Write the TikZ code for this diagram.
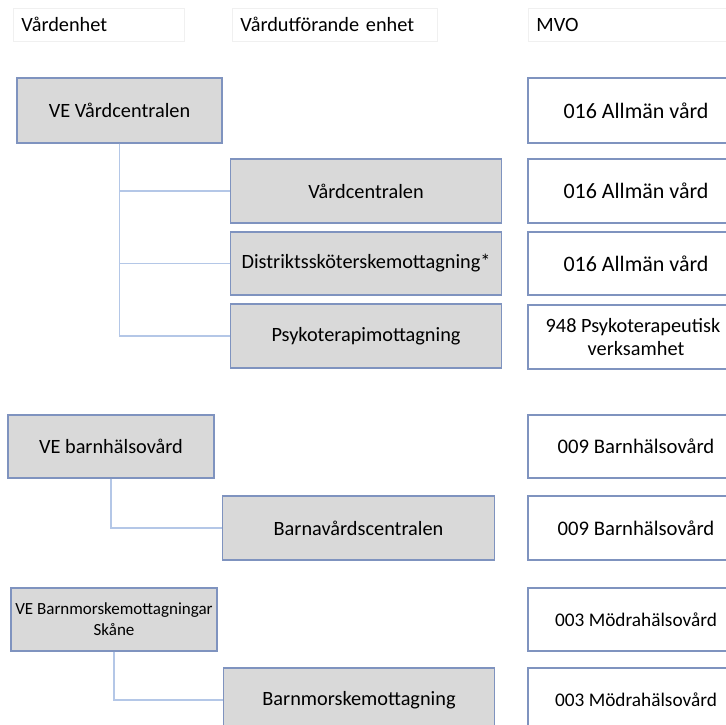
\documentclass[tikz,border=0pt]{standalone}
\usepackage{fontspec}
\setmainfont{Carlito}
\definecolor{boxblue}{HTML}{7F93BF}
\definecolor{linkblue}{HTML}{B4C7E7}
\definecolor{boxgray}{HTML}{D9D9D9}
\definecolor{headline}{HTML}{F0F0F0}

\begin{document}
\begin{tikzpicture}[x=1pt,y=-1pt,
    unit/.style={draw=boxblue, line width=1.3pt, fill=boxgray, inner sep=0pt,
        align=center, font=\fontsize{20.3}{24}\selectfont},
    mvo/.style={unit, fill=white, minimum width=216pt},
    head/.style={draw=headline, line width=0.8pt, anchor=west, inner xsep=8pt,
        minimum height=33pt, align=left, font=\fontsize{20.3}{24}\selectfont},
    link/.style={draw=linkblue, line width=1.3pt}]
    \useasboundingbox (0,0) rectangle (726,725);

    % column heads
    \node[head, text width=155pt] (hve) at (13,24.5) {Vårdenhet};
    \node[head, text width=189pt] (hvue) at (232,24.5) {Vårdutförande enhet};
    \node[head, text width=200pt] (hmvo) at (528,24.5) {MVO};

    % VE Vårdcentralen
    \node[unit, minimum width=205pt, minimum height=65pt] (ve1) at (119.5,110.5) {VE Vårdcentralen};
    \node[unit, minimum width=271pt, minimum height=64pt] (vc) at (366,191) {Vårdcentralen};
    \node[unit, minimum width=271pt, minimum height=63pt] (dsm) at (366,263.5) {Distriktssköterskemottagning*};
    \node[unit, minimum width=271pt, minimum height=64pt] (pm) at (366,336) {Psykoterapimottagning};
    \node[mvo, minimum height=65pt, font=\fontsize{22}{26}\selectfont] (m1) at (636,110.5) {016 Allmän vård};
    \node[mvo, minimum height=64pt, font=\fontsize{22}{26}\selectfont] (m2) at (636,191) {016 Allmän vård};
    \node[mvo, minimum height=63pt, font=\fontsize{22}{26}\selectfont] (m3) at (636,263.5) {016 Allmän vård};
    \node[mvo, minimum height=64pt, font=\fontsize{20.3}{23}\selectfont] (m4) at (636,337) {\hspace*{-6pt}948 Psykoterapeutisk\\verksamhet};
    \draw[link] (ve1.south) |- (vc.west);
    \draw[link] (ve1.south) |- (dsm.west);
    \draw[link] (ve1.south) |- (pm.west);

    % VE barnhälsovård
    \node[unit, minimum width=206pt, minimum height=63pt] (ve2) at (111,446.5) {VE barnhälsovård};
    \node[unit, minimum width=272pt, minimum height=64pt] (bvc) at (358.5,528) {Barnavårdscentralen};
    \node[mvo, minimum height=63pt, font=\fontsize{20.7}{24}\selectfont] (m5) at (636,446.5) {009 Barnhälsovård};
    \node[mvo, minimum height=64pt, font=\fontsize{20.7}{24}\selectfont] (m6) at (636,528) {009 Barnhälsovård};
    \draw[link] (ve2.south) |- (bvc.west);

    % VE Barnmorskemottagningar
    \node[unit, minimum width=206pt, minimum height=63pt, font=\fontsize{17}{21}\selectfont] (ve3) at (114,619.5) {VE Barnmorskemottagningar\\Skåne};
    \node[unit, minimum width=271pt, minimum height=64pt] (bmm) at (359,700) {Barnmorskemottagning};
    \node[mvo, minimum height=63pt, font=\fontsize{19.3}{24}\selectfont] (m7) at (636,619.5) {003 Mödrahälsovård};
    \node[mvo, minimum height=64pt, font=\fontsize{19.3}{24}\selectfont] (m8) at (636,700) {003 Mödrahälsovård};
    \draw[link] (ve3.south) |- (bmm.west);
\end{tikzpicture}
\end{document}
